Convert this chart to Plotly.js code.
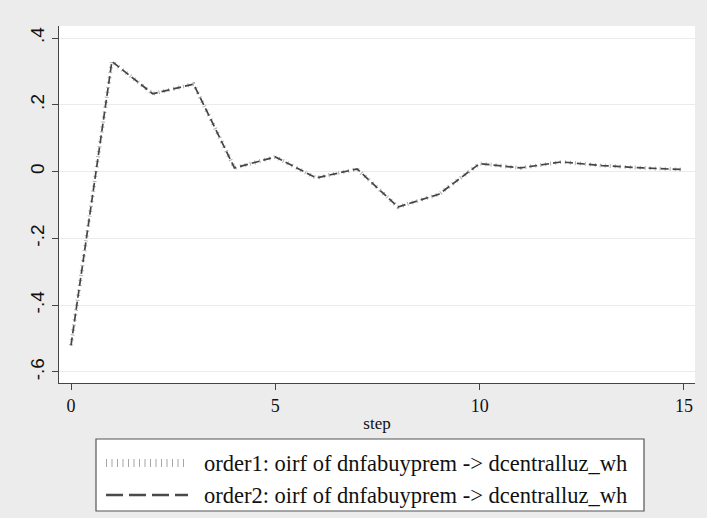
<!DOCTYPE html>
<html>
<head>
<meta charset="utf-8">
<script src="https://cdn.plot.ly/plotly-3.0.1.min.js"></script>
<style>html,body{margin:0;padding:0;background:#ececec;}#chart{width:707px;height:518px;}</style>
</head>
<body>
<div id="chart"></div>
<script>
const steps = [0,1,2,3,4,5,6,7,8,9,10,11,12,13,14,15];
const order1 = [-0.52,0.33,0.233,0.262,0.011,0.044,-0.019,0.008,-0.106,-0.068,0.024,0.011,0.029,0.018,0.011,0.006];
const order2 = [-0.52,0.33,0.233,0.262,0.011,0.044,-0.019,0.008,-0.106,-0.068,0.024,0.011,0.029,0.018,0.011,0.006];
const seriesNames = ["order1: oirf of dnfabuyprem -> dcentralluz_wh","order2: oirf of dnfabuyprem -> dcentralluz_wh"];
const yTickVals = [-0.6,-0.4,-0.2,0,0.2,0.4];
const yTickText = ["-.6","-.4","-.2","0",".2",".4"];
const xTickVals = [0,5,10,15];

const SERIF = 'Liberation Serif';
const SANS = 'Liberation Sans';

const traces = [
  {x: steps, y: order1, mode: 'lines', name: seriesNames[0],
   line: {color: '#b0b0b0', width: 4, dash: '1px,4px'}, showlegend: false, hoverinfo: 'x+y'},
  {x: steps, y: order2, mode: 'lines', name: seriesNames[1],
   line: {color: '#454545', width: 1.7, dash: '8px,4px'}, showlegend: false, hoverinfo: 'x+y'}
];

// paper coordinate helpers for the legend box (plot area: x 59..695, y 26..383)
const px = v => (v - 59) / 636;
const py = v => (383 - v) / 357;

const layout = {
  width: 707, height: 518,
  paper_bgcolor: '#ececec',
  plot_bgcolor: '#ffffff',
  margin: {l: 59, r: 12, t: 26, b: 135},
  showlegend: false,
  xaxis: {
    range: [-0.294, 15.27],
    tickvals: xTickVals,
    ticks: 'outside', ticklen: 6, tickcolor: '#444', tickwidth: 1,
    showgrid: false, zeroline: false,
    showline: true, linecolor: '#444', linewidth: 1,
    tickfont: {family: SERIF, size: 18, color: '#111'},
    title: {text: 'step', font: {family: SERIF, size: 17, color: '#111'}, standoff: 2}
  },
  yaxis: {
    range: [-0.633, 0.436],
    tickvals: yTickVals, ticktext: yTickText,
    tickangle: -90,
    ticks: 'outside', ticklen: 6, tickcolor: '#444', tickwidth: 1,
    showgrid: true, gridcolor: '#ebebeb', gridwidth: 1,
    zeroline: false,
    showline: true, linecolor: '#444', linewidth: 1,
    tickfont: {family: SANS, size: 19, color: '#111'}
  },
  shapes: [
    {type: 'rect', xref: 'paper', yref: 'paper', x0: px(96), x1: px(644), y0: py(439), y1: py(511),
     line: {color: '#555', width: 1.2}, fillcolor: '#ffffff', layer: 'above'},
    {type: 'line', xref: 'paper', yref: 'paper', x0: px(106), x1: px(188), y0: py(463), y1: py(463),
     line: {color: '#a6a6a6', width: 8, dash: '1px,4.5px'}},
    {type: 'line', xref: 'paper', yref: 'paper', x0: px(106), x1: px(188), y0: py(495), y1: py(495),
     line: {color: '#4a4a4a', width: 2.5, dash: '17px,6px'}}
  ],
  annotations: [
    {xref: 'paper', yref: 'paper', x: px(202), y: py(463), xanchor: 'left', yanchor: 'middle', showarrow: false,
     text: seriesNames[0], font: {family: SERIF, size: 22.5, color: '#111'}},
    {xref: 'paper', yref: 'paper', x: px(202), y: py(495), xanchor: 'left', yanchor: 'middle', showarrow: false,
     text: seriesNames[1], font: {family: SERIF, size: 22.5, color: '#111'}}
  ]
};

Plotly.newPlot('chart', traces, layout, {displayModeBar: false, staticPlot: true});
</script>
</body>
</html>
